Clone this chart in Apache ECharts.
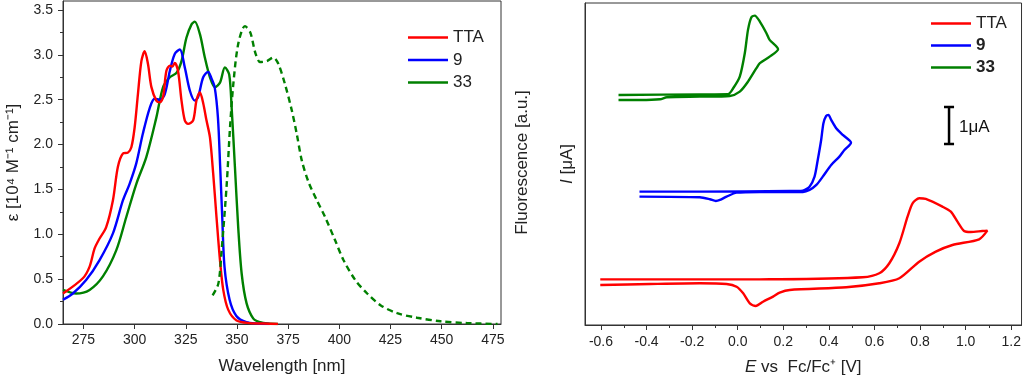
<!DOCTYPE html>
<html><head><meta charset="utf-8">
<script src="https://cdn.jsdelivr.net/npm/echarts@6/dist/echarts.min.js"></script>
<style>html,body{margin:0;padding:0;background:#fff}#c{width:1024px;height:382px}</style>
</head><body><div id="c"></div>
<script>
// ---------- Absorption (left panel) ----------
const wlTTA = [265, 274.7, 278, 280.4, 282.8, 286.1, 289.4, 291.8, 294.3, 296.7, 298.4, 300, 301.6, 303.3, 304.9, 306.5, 308.2, 310.6, 312.3, 313.9, 315.5, 317.2, 318.5, 319.6, 321.2, 322.9, 324.5, 326.1, 328.6, 330.2, 331.9, 333.5, 335.1, 336.8, 338.4, 340, 341.7, 343.3, 345.7, 349.8, 356.4, 363, 370];
const epsTTA = [0.34, 0.51, 0.64, 0.84, 0.95, 1.08, 1.38, 1.75, 1.90, 1.91, 1.97, 2.19, 2.56, 2.93, 3.04, 2.90, 2.64, 2.49, 2.47, 2.53, 2.82, 2.88, 2.87, 2.91, 2.82, 2.49, 2.27, 2.23, 2.27, 2.49, 2.58, 2.46, 2.27, 2.08, 1.67, 1.19, 0.71, 0.38, 0.16, 0.04, 0.01, 0.005, 0.0];

const wl9 = [265, 269.8, 276.3, 282.8, 289.4, 294.3, 297.5, 300.8, 304, 307.4, 309.8, 312.3, 314.7, 317.2, 319.6, 322.1, 324.5, 327, 329.4, 331, 333.5, 335.9, 337.5, 339.1, 340.7, 341.8, 342.8, 343.9, 346.4, 349.7, 354.6, 360, 366];
const eps9 = [0.27, 0.34, 0.49, 0.71, 1.01, 1.38, 1.56, 1.79, 2.12, 2.41, 2.51, 2.50, 2.56, 2.82, 3.01, 3.06, 2.86, 2.60, 2.49, 2.53, 2.75, 2.81, 2.74, 2.64, 2.30, 1.75, 1.19, 0.64, 0.27, 0.09, 0.02, 0.005, 0];

const wl33 = [265, 271.4, 278, 284.5, 291, 295.9, 300.8, 305.7, 310.6, 313.9, 317.2, 320.5, 322.9, 325.3, 327.8, 329.4, 331.9, 334.3, 336.8, 339.2, 341.7, 344.1, 346.2, 347.4, 349, 350.6, 352.3, 354.7, 358, 361.3, 365, 370];
const eps33 = [0.38, 0.34, 0.38, 0.53, 0.82, 1.19, 1.56, 1.86, 2.30, 2.64, 2.75, 2.80, 2.93, 3.19, 3.34, 3.37, 3.23, 2.97, 2.75, 2.64, 2.69, 2.86, 2.78, 2.41, 1.75, 1.08, 0.56, 0.23, 0.06, 0.02, 0.005, 0];

const wlFluo33 = [338.1, 340.9, 342.5, 345, 346.6, 348.2, 350.6, 353.9, 356.5, 359, 361.3, 364.6, 367.8, 370.2, 373.5, 376.8, 379.2, 381.7, 385, 389, 393.1, 398, 402.1, 407.8, 413.6, 420.1, 428.3, 438, 449.5, 462.6, 477.3];
const fluo33 = [0.32, 0.45, 0.82, 1.56, 2.19, 2.67, 3.12, 3.32, 3.25, 3.02, 2.92, 2.93, 2.97, 2.90, 2.67, 2.38, 2.12, 1.82, 1.58, 1.38, 1.19, 0.93, 0.71, 0.49, 0.34, 0.21, 0.12, 0.07, 0.03, 0.01, 0.0];

const wlTicks = [275, 300, 325, 350, 375, 400, 425, 450, 475];
const epsTicks = [0, 0.5, 1.0, 1.5, 2.0, 2.5, 3.0, 3.5];
const epsMinorTicks = [0.25, 0.75, 1.25, 1.75, 2.25, 2.75, 3.25];

// ---------- Cyclic voltammetry (right panel) ----------
const cvTTA_E = [-0.603, -0.166, 0.097, 0.184, 0.548, 0.621, 0.665, 0.709, 0.745, 0.767, 0.796, 0.825, 0.898, 0.935, 0.964, 0.993, 1.022, 1.073, 1.095, 1.059, 0.942, 0.869, 0.796, 0.709, 0.621, 0.476, 0.228, 0.184, 0.155, 0.111, 0.079, 0.053, 0.024, -0.005, -0.049, -0.166, -0.384, -0.603];
const cvTTA_I = [1.234, 1.234, 1.234, 1.235, 1.289, 1.397, 1.668, 2.208, 2.927, 3.289, 3.424, 3.405, 3.197, 3.062, 2.792, 2.541, 2.514, 2.540, 2.549, 2.316, 2.162, 1.981, 1.711, 1.262, 1.127, 1.019, 0.946, 0.873, 0.766, 0.63, 0.514, 0.586, 0.857, 1.035, 1.108, 1.127, 1.108, 1.081];

const cv9_E = [-0.431, -0.166, 0.228, 0.285, 0.315, 0.337, 0.351, 0.366, 0.376, 0.388, 0.398, 0.410, 0.432, 0.461, 0.497, 0.468, 0.446, 0.410, 0.373, 0.345, 0.315, 0.286, 0.097, -0.005, -0.049, -0.078, -0.096, -0.122, -0.166, -0.431];
const cv9_I = [3.603, 3.603, 3.62, 3.63, 3.738, 4.008, 4.459, 5.0, 5.451, 5.649, 5.676, 5.541, 5.316, 5.135, 4.927, 4.73, 4.549, 4.324, 4.008, 3.784, 3.649, 3.595, 3.595, 3.576, 3.468, 3.378, 3.351, 3.397, 3.45, 3.468];

const cv33_E = [-0.523, -0.166, -0.043, -0.020, 0.009, 0.031, 0.045, 0.060, 0.075, 0.097, 0.126, 0.140, 0.177, 0.140, 0.097, 0.082, 0.045, 0.009, -0.035, -0.166, -0.311, -0.341, -0.428, -0.523];
const cv33_I = [6.216, 6.23, 6.235, 6.397, 6.711, 7.343, 7.973, 8.316, 8.359, 8.197, 7.884, 7.703, 7.451, 7.251, 7.073, 6.938, 6.576, 6.305, 6.189, 6.170, 6.154, 6.1, 6.081, 6.081];

const eTicks = [-0.6, -0.4, -0.2, 0.0, 0.2, 0.4, 0.6, 0.8, 1.0, 1.2];
const eMinorTicks = [-0.5, -0.3, -0.1, 0.1, 0.3, 0.5, 0.7, 0.9, 1.1];

// scale bar (1 µA)
const scaleBarE = 0.927;
const scaleBarCap = 0.022;
const scaleBarI = [4.89, 5.89];
const scaleBarLabel = '1μA';
const scaleBarLabelPos = [0.971, 5.33];

const names = ['TTA', '9', '33'];
const colors = ['#ff0000', '#0000ff', '#008000'];

const zip = (a, b) => a.map((v, i) => [v, b[i]]);
const FONT = "'Liberation Sans', Arial, sans-serif";
const TXT = '#222';
const AX = '#333';
const LW = 2.4;

const hiddenAxis = (gi, min, max) => ({
  type: 'value', gridIndex: gi, min, max,
  axisLine: {show: false, onZero: false}, axisTick: {show: false}, axisLabel: {show: false}, splitLine: {show: false}
});

const chart = echarts.init(document.getElementById('c'), null, {renderer: 'canvas'});
const scaleBarData = [
  [scaleBarE - scaleBarCap, scaleBarI[1]], [scaleBarE + scaleBarCap, scaleBarI[1]],
  [scaleBarE, scaleBarI[1]], [scaleBarE, scaleBarI[0]],
  [scaleBarE - scaleBarCap, scaleBarI[0]], [scaleBarE + scaleBarCap, scaleBarI[0]]
];

const option = {
  animation: false,
  textStyle: {fontFamily: FONT},
  grid: [
    {left: 63, top: 1, width: 438, height: 323, show: true, borderColor: AX, borderWidth: 1, backgroundColor: 'transparent'},
    {left: 63, top: 1, width: 438, height: 323, show: false},
    {left: 585, top: 3, width: 437, height: 322, show: true, borderColor: AX, borderWidth: 1, backgroundColor: 'transparent'},
    {left: 585, top: 3, width: 437, height: 322, show: false}
  ],
  xAxis: [
    {type: 'value', gridIndex: 0, min: 265, max: 479,
     axisLine: {show: true, onZero: false, lineStyle: {color: AX}},
     axisTick: {show: true, length: 5, customValues: wlTicks, lineStyle: {color: AX}},
     axisLabel: {customValues: wlTicks, fontSize: 14, color: TXT, margin: 9, fontFamily: FONT},
     splitLine: {show: false},
     name: 'Wavelength [nm]', nameLocation: 'middle', nameGap: 34,
     nameTextStyle: {fontSize: 17, color: TXT, fontFamily: FONT}},
    hiddenAxis(1, 265, 479),
    {type: 'value', gridIndex: 2, min: -0.67, max: 1.245,
     axisLine: {show: true, onZero: false, lineStyle: {color: AX}},
     axisTick: {show: true, length: 5, customValues: eTicks, lineStyle: {color: AX}},
     axisLabel: {customValues: eTicks, fontSize: 14, color: TXT, margin: 10, fontFamily: FONT,
                 formatter: v => v.toFixed(1)},
     splitLine: {show: false},
     name: '{i|E} vs  Fc/Fc⁺ [V]', nameLocation: 'middle', nameGap: 34,
     nameTextStyle: {fontSize: 17, color: TXT, fontFamily: FONT,
       rich: {i: {fontStyle: 'italic', fontSize: 17, color: TXT, fontFamily: FONT}}}},
    {type: 'value', gridIndex: 3, min: -0.67, max: 1.245,
     axisLine: {show: false, onZero: false},
     axisTick: {show: true, length: 3, customValues: eMinorTicks, lineStyle: {color: AX}},
     axisLabel: {show: false}, splitLine: {show: false}}
  ],
  yAxis: [
    {type: 'value', gridIndex: 0, min: 0, max: 3.6,
     axisLine: {show: true, onZero: false, lineStyle: {color: AX}},
     axisTick: {show: true, length: 5, customValues: epsTicks, lineStyle: {color: AX}},
     axisLabel: {customValues: epsTicks, fontSize: 14, color: TXT, margin: 10, fontFamily: FONT,
                 formatter: v => v.toFixed(1)},
     splitLine: {show: false},
     name: 'ε [10⁴ M⁻¹ cm⁻¹]', nameLocation: 'middle', nameGap: 41,
     nameTextStyle: {fontSize: 17, color: TXT, fontFamily: FONT}},
    {type: 'value', gridIndex: 0, position: 'right', min: 0, max: 3.6,
     axisLine: {show: false, onZero: false}, axisTick: {show: false}, axisLabel: {show: false}, splitLine: {show: false},
     name: 'Fluorescence [a.u.]', nameLocation: 'middle', nameGap: 13, nameRotate: 90,
     nameTextStyle: {fontSize: 17, color: TXT, fontFamily: FONT}},
    {type: 'value', gridIndex: 1, min: 0, max: 3.6,
     axisLine: {show: false, onZero: false},
     axisTick: {show: true, length: 3, customValues: epsMinorTicks, lineStyle: {color: AX}},
     axisLabel: {show: false}, splitLine: {show: false}},
    {type: 'value', gridIndex: 2, min: 0, max: 8.7,
     axisLine: {show: true, onZero: false, lineStyle: {color: AX}},
     axisTick: {show: false}, axisLabel: {show: false}, splitLine: {show: false},
     name: '{i|I} [μA]', nameLocation: 'middle', nameGap: 9,
     nameTextStyle: {fontSize: 17, color: TXT, fontFamily: FONT,
       rich: {i: {fontStyle: 'italic', fontSize: 17, color: TXT, fontFamily: FONT}}}},
    hiddenAxis(3, 0, 8.7)
  ],
  legend: [
    {data: names, orient: 'vertical', left: 408, top: 29, padding: 0, icon: 'rect',
     itemWidth: 40, itemHeight: 2.5, itemGap: 5.5,
     textStyle: {fontSize: 17, color: TXT, fontFamily: FONT}},
    {data: names, orient: 'vertical', left: 931, top: 15, padding: 0, icon: 'rect',
     itemWidth: 40, itemHeight: 2.5, itemGap: 5,
     formatter: n => n === 'TTA' ? n : '{b|' + n + '}',
     textStyle: {fontSize: 17, color: TXT, fontFamily: FONT,
       rich: {b: {fontWeight: 'bold', fontSize: 17, color: TXT, fontFamily: FONT}}}}
  ],
  series: [
    {name: 'TTA', type: 'line', xAxisIndex: 0, yAxisIndex: 0, data: zip(wlTTA, epsTTA), smooth: 0.3, symbol: 'none', lineStyle: {color: colors[0], width: LW}, itemStyle: {color: colors[0]}, z: 3},
    {name: '9', type: 'line', xAxisIndex: 0, yAxisIndex: 0, data: zip(wl9, eps9), smooth: 0.3, symbol: 'none', lineStyle: {color: colors[1], width: LW}, itemStyle: {color: colors[1]}, z: 2},
    {name: '33', type: 'line', xAxisIndex: 0, yAxisIndex: 0, data: zip(wl33, eps33), smooth: 0.3, symbol: 'none', lineStyle: {color: colors[2], width: LW}, itemStyle: {color: colors[2]}, z: 1},
    {name: '33 fluorescence', type: 'line', xAxisIndex: 0, yAxisIndex: 1, data: zip(wlFluo33, fluo33), smooth: 0.3, symbol: 'none', lineStyle: {color: colors[2], width: LW, type: [6, 4]}, itemStyle: {color: colors[2]}},
    {name: 'TTA', type: 'line', xAxisIndex: 2, yAxisIndex: 3, data: zip(cvTTA_E, cvTTA_I), smooth: 0.25, symbol: 'none', lineStyle: {color: colors[0], width: LW}, itemStyle: {color: colors[0]}},
    {name: '9', type: 'line', xAxisIndex: 2, yAxisIndex: 3, data: zip(cv9_E, cv9_I), smooth: 0.25, symbol: 'none', lineStyle: {color: colors[1], width: LW}, itemStyle: {color: colors[1]}},
    {name: '33', type: 'line', xAxisIndex: 2, yAxisIndex: 3, data: zip(cv33_E, cv33_I), smooth: 0.25, symbol: 'none', lineStyle: {color: colors[2], width: LW}, itemStyle: {color: colors[2]}},
    {name: 'scalebar', type: 'line', xAxisIndex: 2, yAxisIndex: 3, data: scaleBarData, symbol: 'none', lineStyle: {color: '#000', width: 2.5}},
    {name: 'scalebarLabel', type: 'scatter', xAxisIndex: 2, yAxisIndex: 3, data: [scaleBarLabelPos], symbolSize: 0,
     itemStyle: {opacity: 1},
     label: {show: true, position: 'right', distance: 0, formatter: scaleBarLabel, fontSize: 17, color: '#111', opacity: 1, fontFamily: FONT}}
  ]
};
chart.setOption(option);
</script>
</body></html>
